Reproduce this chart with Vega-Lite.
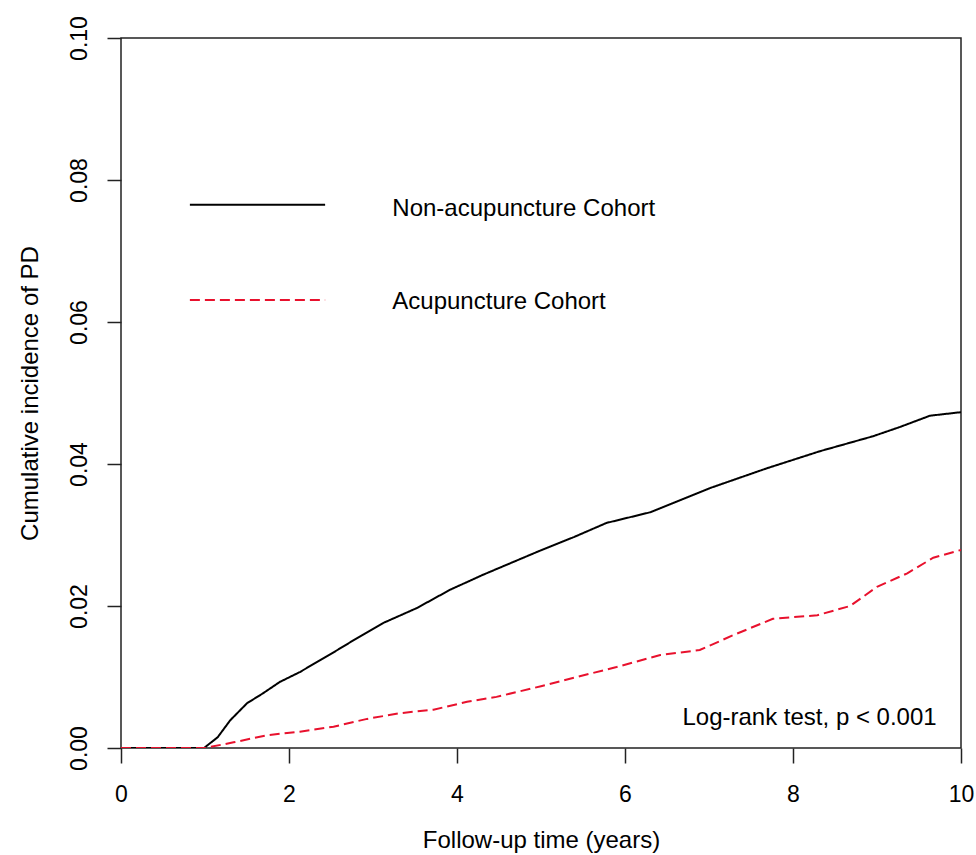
{
  "$schema": "https://vega.github.io/schema/vega-lite/v6.json",
  "autosize": "none",
  "width": 840,
  "height": 710,
  "padding": {"left": 121, "top": 38, "right": 15, "bottom": 107},
  "background": "white",
  "config": {
    "view": {"stroke": "#222", "strokeWidth": 1.5},
    "font": "Liberation Sans",
    "axis": {
      "grid": false,
      "domain": false,
      "tickColor": "#222",
      "tickWidth": 1.5,
      "labelFlush": false,
      "labelOverlap": false,
      "labelFont": "Liberation Sans",
      "titleFont": "Liberation Sans",
      "labelFontSize": 23,
      "titleFontSize": 24,
      "labelColor": "#000",
      "titleColor": "#000",
      "titleFontWeight": "normal"
    }
  },
  "datasets": {
    "curves": [
      {"year": 0, "cum": 0, "cohort": "Non-acupuncture Cohort"},
      {"year": 0.99, "cum": 0, "cohort": "Non-acupuncture Cohort"},
      {"year": 1.02, "cum": 0.0003, "cohort": "Non-acupuncture Cohort"},
      {"year": 1.15, "cum": 0.0015, "cohort": "Non-acupuncture Cohort"},
      {"year": 1.3, "cum": 0.0039, "cohort": "Non-acupuncture Cohort"},
      {"year": 1.5, "cum": 0.0063, "cohort": "Non-acupuncture Cohort"},
      {"year": 1.69, "cum": 0.0077, "cohort": "Non-acupuncture Cohort"},
      {"year": 1.89, "cum": 0.0093, "cohort": "Non-acupuncture Cohort"},
      {"year": 2.13, "cum": 0.0107, "cohort": "Non-acupuncture Cohort"},
      {"year": 2.52, "cum": 0.0134, "cohort": "Non-acupuncture Cohort"},
      {"year": 2.73, "cum": 0.0149, "cohort": "Non-acupuncture Cohort"},
      {"year": 3.12, "cum": 0.0176, "cohort": "Non-acupuncture Cohort"},
      {"year": 3.52, "cum": 0.0197, "cohort": "Non-acupuncture Cohort"},
      {"year": 3.92, "cum": 0.0223, "cohort": "Non-acupuncture Cohort"},
      {"year": 4.31, "cum": 0.0244, "cohort": "Non-acupuncture Cohort"},
      {"year": 4.51, "cum": 0.0254, "cohort": "Non-acupuncture Cohort"},
      {"year": 4.99, "cum": 0.0278, "cohort": "Non-acupuncture Cohort"},
      {"year": 5.39, "cum": 0.0297, "cohort": "Non-acupuncture Cohort"},
      {"year": 5.78, "cum": 0.0317, "cohort": "Non-acupuncture Cohort"},
      {"year": 6.3, "cum": 0.0332, "cohort": "Non-acupuncture Cohort"},
      {"year": 7.01, "cum": 0.0366, "cohort": "Non-acupuncture Cohort"},
      {"year": 7.69, "cum": 0.0394, "cohort": "Non-acupuncture Cohort"},
      {"year": 8.32, "cum": 0.0418, "cohort": "Non-acupuncture Cohort"},
      {"year": 8.95, "cum": 0.0439, "cohort": "Non-acupuncture Cohort"},
      {"year": 9.27, "cum": 0.0452, "cohort": "Non-acupuncture Cohort"},
      {"year": 9.63, "cum": 0.0468, "cohort": "Non-acupuncture Cohort"},
      {"year": 10.0, "cum": 0.0473, "cohort": "Non-acupuncture Cohort"},
      {"year": 0, "cum": 0, "cohort": "Acupuncture Cohort"},
      {"year": 1.0, "cum": 0, "cohort": "Acupuncture Cohort"},
      {"year": 1.34, "cum": 0.0008, "cohort": "Acupuncture Cohort"},
      {"year": 1.74, "cum": 0.0018, "cohort": "Acupuncture Cohort"},
      {"year": 2.13, "cum": 0.0023, "cohort": "Acupuncture Cohort"},
      {"year": 2.53, "cum": 0.003, "cohort": "Acupuncture Cohort"},
      {"year": 2.93, "cum": 0.0041, "cohort": "Acupuncture Cohort"},
      {"year": 3.32, "cum": 0.0049, "cohort": "Acupuncture Cohort"},
      {"year": 3.72, "cum": 0.0054, "cohort": "Acupuncture Cohort"},
      {"year": 4.12, "cum": 0.0065, "cohort": "Acupuncture Cohort"},
      {"year": 4.47, "cum": 0.0072, "cohort": "Acupuncture Cohort"},
      {"year": 5.0, "cum": 0.0087, "cohort": "Acupuncture Cohort"},
      {"year": 5.39, "cum": 0.0099, "cohort": "Acupuncture Cohort"},
      {"year": 5.9, "cum": 0.0114, "cohort": "Acupuncture Cohort"},
      {"year": 6.42, "cum": 0.0131, "cohort": "Acupuncture Cohort"},
      {"year": 6.89, "cum": 0.0138, "cohort": "Acupuncture Cohort"},
      {"year": 7.29, "cum": 0.0159, "cohort": "Acupuncture Cohort"},
      {"year": 7.76, "cum": 0.0182, "cohort": "Acupuncture Cohort"},
      {"year": 8.29, "cum": 0.0187, "cohort": "Acupuncture Cohort"},
      {"year": 8.68, "cum": 0.02, "cohort": "Acupuncture Cohort"},
      {"year": 9.0, "cum": 0.0227, "cohort": "Acupuncture Cohort"},
      {"year": 9.36, "cum": 0.0246, "cohort": "Acupuncture Cohort"},
      {"year": 9.67, "cum": 0.0268, "cohort": "Acupuncture Cohort"},
      {"year": 10.0, "cum": 0.0279, "cohort": "Acupuncture Cohort"}
    ],
    "one": [{}]
  },
  "layer": [
    {
      "data": {"name": "curves"},
      "mark": {"type": "line", "strokeWidth": 2, "clip": true},
      "encoding": {
        "x": {
          "field": "year", "type": "quantitative",
          "scale": {"domain": [0, 10], "nice": false, "zero": false},
          "axis": {
            "values": [0, 2, 4, 6, 8, 10],
            "format": "d",
            "tickSize": 15,
            "labelPadding": 20,
            "title": "Follow-up time (years)",
            "titlePadding": 22
          }
        },
        "y": {
          "field": "cum", "type": "quantitative",
          "scale": {"domain": [0, 0.1], "nice": false},
          "axis": {
            "values": [0, 0.02, 0.04, 0.06, 0.08, 0.1],
            "format": ".2f",
            "tickSize": 14,
            "labelAngle": -90,
            "labelAlign": "center",
            "labelBaseline": "bottom",
            "labelPadding": 16,
            "title": "Cumulative incidence of PD",
            "titlePadding": 26
          }
        },
        "color": {
          "field": "cohort", "type": "nominal",
          "scale": {"domain": ["Non-acupuncture Cohort", "Acupuncture Cohort"], "range": ["#000000", "#e8112d"]},
          "legend": null
        },
        "strokeDash": {
          "field": "cohort", "type": "nominal",
          "scale": {"domain": ["Non-acupuncture Cohort", "Acupuncture Cohort"], "range": [[1, 0], [10, 5]]},
          "legend": null
        },
        "order": {"field": "year", "type": "quantitative"}
      }
    },
    {
      "data": {"name": "one"},
      "mark": {"type": "rule", "color": "#000", "strokeWidth": 2},
      "encoding": {
        "x": {"datum": 0.82, "type": "quantitative"},
        "x2": {"datum": 2.43},
        "y": {"datum": 0.0765, "type": "quantitative"}
      }
    },
    {
      "data": {"name": "one"},
      "mark": {"type": "rule", "color": "#e8112d", "strokeWidth": 2, "strokeDash": [10, 5]},
      "encoding": {
        "x": {"datum": 0.82, "type": "quantitative"},
        "x2": {"datum": 2.43},
        "y": {"datum": 0.0631, "type": "quantitative"}
      }
    },
    {
      "data": {"name": "one"},
      "mark": {"type": "text", "align": "left", "baseline": "middle", "fontSize": 24, "color": "#000", "font": "Liberation Sans"},
      "encoding": {
        "x": {"datum": 3.23, "type": "quantitative"},
        "y": {"datum": 0.0759, "type": "quantitative"},
        "text": {"value": "Non-acupuncture Cohort"}
      }
    },
    {
      "data": {"name": "one"},
      "mark": {"type": "text", "align": "left", "baseline": "middle", "fontSize": 24, "color": "#000", "font": "Liberation Sans"},
      "encoding": {
        "x": {"datum": 3.23, "type": "quantitative"},
        "y": {"datum": 0.0628, "type": "quantitative"},
        "text": {"value": "Acupuncture Cohort"}
      }
    },
    {
      "data": {"name": "one"},
      "mark": {"type": "text", "align": "right", "baseline": "middle", "fontSize": 24, "color": "#000", "font": "Liberation Sans"},
      "encoding": {
        "x": {"datum": 9.71, "type": "quantitative"},
        "y": {"datum": 0.0042, "type": "quantitative"},
        "text": {"value": "Log-rank test, p < 0.001"}
      }
    }
  ]
}
